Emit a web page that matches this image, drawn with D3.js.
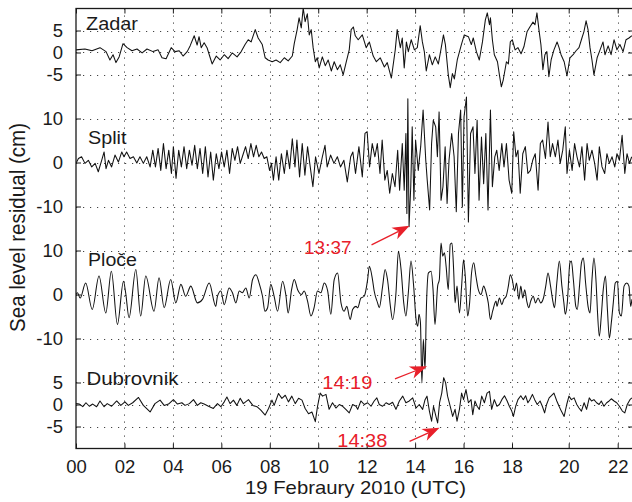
<!DOCTYPE html>
<html><head><meta charset="utf-8">
<script src="https://cdn.jsdelivr.net/npm/d3@7"></script>
<style>
html,body{margin:0;padding:0;background:#fff;}
svg{display:block;font-family:"Liberation Sans",Arial,sans-serif;}
</style></head><body>
<svg id="chart" width="632" height="502"></svg>
<script>
// ---------- data ----------
const hourTicks = [0,2,4,6,8,10,12,14,16,18,20,22];
const hourLabels = ["00","02","04","06","08","10","12","14","16","18","20","22"];
const stations = ["Zadar","Split","Ploče","Dubrovnik"];
const stationOffsets = [80,55,25,0];
const zadarTicks = [5,0,-5];
const splitTicks = [10,0,-10];
const plocheTicks = [10,0,-10];
const dubrovnikTicks = [5,0,-5];

const zadarTime = [0,0.37,0.66,0.99,1.24,1.40,1.53,1.65,1.78,1.94,2.11,2.31,2.52,2.73,2.93,3.18,3.39,3.55,3.72,3.93,4.09,4.26,4.42,4.59,4.71,4.88,5.00,5.08,5.17,5.29,5.41,5.54,5.62,5.79,5.95,6.12,6.28,6.45,6.65,6.82,6.98,7.11,7.23,7.40,7.52,7.69,7.81,7.93,8.10,8.26,8.43,8.60,8.76,8.93,9.01,9.13,9.21,9.30,9.38,9.46,9.55,9.63,9.71,9.79,9.88,9.96,10.04,10.17,10.29,10.41,10.54,10.66,10.79,10.91,11.03,11.16,11.28,11.36,11.45,11.53,11.65,11.82,11.98,12.11,12.27,12.40,12.56,12.73,12.85,13.02,13.18,13.26,13.39,13.47,13.55,13.64,13.72,13.84,13.97,14.09,14.21,14.30,14.38,14.46,14.59,14.71,14.83,14.96,15.08,15.17,15.25,15.37,15.45,15.54,15.62,15.74,15.91,16.03,16.20,16.32,16.40,16.53,16.65,16.78,16.90,16.98,17.07,17.11,17.19,17.27,17.40,17.48,17.56,17.64,17.77,17.85,17.93,18.01,18.11,18.21,18.32,18.42,18.53,18.63,18.74,18.81,18.88,18.95,19.02,19.09,19.16,19.23,19.30,19.38,19.48,19.59,19.66,19.73,19.84,19.94,20.05,20.18,20.30,20.42,20.54,20.62,20.71,20.79,20.87,20.95,21.03,21.16,21.28,21.40,21.48,21.61,21.73,21.85,21.97,22.09,22.22,22.34,22.46,22.58];
const zadarLevel = [0.6,0.8,0.4,1.1,0.2,-1.7,-0.5,-2.3,-1.0,2.0,1.1,0.4,0.8,-0.1,0.8,0.2,0.6,-1.2,-1.4,1.1,0.2,0.4,-0.8,0.2,1.5,3.8,1.7,3.6,1.1,2.2,1.1,-1.2,-2.6,-0.8,-1.7,-0.5,-1.4,-0.1,-1.0,0.2,1.8,2.9,2.4,5.2,3.3,1.8,-1.2,-1.7,-2.1,-1.7,-2.3,-1.2,-1.9,-0.8,2.0,5.2,7.9,5.6,10.1,7.0,8.8,4.0,5.2,1.1,-2.1,-1.2,-3.5,-1.0,-3.0,-1.7,-4.2,-2.1,-3.9,-2.8,-5.1,-2.1,0.6,5.2,5.8,3.8,2.9,4.0,1.1,2.4,-0.8,-2.1,-1.2,-3.3,-2.3,-5.8,0.6,5.2,1.1,3.3,-3.5,2.4,0.2,2.9,0.6,1.1,6.1,2.4,0.2,-4.2,-0.5,-2.8,-1.0,-2.6,1.1,4.0,1.8,-5.1,-8.0,-4.8,-6.0,-1.7,1.8,4.0,3.6,1.8,3.3,0.2,-1.7,2.4,7.4,9.0,6.3,7.9,2.9,-0.5,-2.1,-5.1,-7.8,-6.2,-2.1,-2.6,2.4,2.9,0.6,1.1,-0.3,1.3,4.7,5.8,6.9,6.3,9.0,5.2,1.8,-3.9,-0.5,0.2,-5.5,-1.7,0.6,2.4,1.1,-0.5,-2.1,-5.3,-1.2,-0.5,0.4,1.1,3.3,4.7,7.2,5.2,1.1,-1.7,-5.1,-1.2,0.6,2.4,-0.5,1.5,-0.5,2.9,0.6,1.8,0.2,2.9,3.3,3.8];

const splitTime = [0,0.10,0.23,0.37,0.51,0.65,0.79,0.92,1.06,1.16,1.24,1.34,1.47,1.61,1.75,1.89,1.98,2.09,2.23,2.37,2.51,2.64,2.78,2.92,3.06,3.17,3.28,3.39,3.50,3.61,3.72,3.83,3.94,4.02,4.13,4.24,4.35,4.46,4.57,4.68,4.79,4.90,5.01,5.12,5.23,5.34,5.45,5.56,5.67,5.79,5.90,6.01,6.12,6.23,6.34,6.45,6.56,6.67,6.78,6.89,7.00,7.11,7.22,7.33,7.44,7.55,7.66,7.77,7.88,7.99,8.07,8.15,8.26,8.37,8.48,8.60,8.71,8.82,8.93,9.04,9.12,9.23,9.34,9.45,9.56,9.67,9.78,9.89,
  10.03,10.17,10.28,10.37,10.51,10.65,10.79,10.92,11.06,11.20,11.34,11.43,11.54,11.68,11.82,11.93,12.02,12.12,12.23,12.34,12.44,12.55,12.64,12.75,12.85,12.95,13.06,13.17,13.28,13.36,13.47,13.55,13.62,13.66,13.70,13.75,13.82,13.88,13.95,14.02,14.13,14.23,14.33,14.44,14.50,14.60,14.68,14.75,14.85,14.92,14.99,15.07,15.15,15.24,15.32,15.40,15.51,15.61,15.70,15.79,15.88,15.95,16.02,16.12,16.20,16.29,16.39,16.47,16.56,16.64,16.74,16.83,16.92,17.01,17.11,17.19,17.29,17.37,17.47,17.58,17.67,17.77,17.88,17.99,18.06,18.14,18.21,18.29,18.38,18.47,18.56,18.65,18.73,18.82,18.92,19.00,19.08,19.18,19.27,19.35,19.43,19.53,19.62,19.70,19.79,19.88,19.94,20.03,20.14,20.24,20.34,20.44,20.54,20.65,20.75,20.84,20.95,21.06,21.16,21.25,21.36,21.47,21.56,21.66,21.77,21.88,21.97,22.07,22.18,22.29,22.38,22.48,22.57];
const splitLevel = [-0.2,0.9,1.3,-0.2,0.5,-1.0,-0.2,-2.1,0.5,2.4,-1.4,0.5,-1.0,1.7,0.1,2.4,1.3,2.4,0.9,1.3,-0.1,1.3,-0.2,1.3,-1.0,2.8,-1.0,3.2,-1.8,4.3,-1.4,2.8,-2.5,3.6,-3.6,2.8,-1.0,3.6,-1.4,2.8,-0.6,3.9,-1.4,3.2,-2.5,3.6,-3.3,2.4,-4.0,2.0,-1.4,2.4,-1.0,2.8,-2.5,3.2,0.5,3.6,-0.2,1.7,3.6,0.9,4.3,1.3,3.9,1.3,2.4,0.9,1.3,-1.8,-0.2,-4.0,1.3,-4.0,2.0,-2.5,2.8,-1.4,5.4,-1.0,5.1,-3.3,4.3,-2.9,3.6,-1.0,-5.5,1.3,
  -2.5,1.3,3.9,-1.0,1.7,-0.2,1.3,-1.0,0.5,-4.4,1.3,2.4,-2.5,3.6,-3.3,6.6,7.0,-1.0,4.3,1.3,4.3,-2.5,5.1,-4.0,-1.8,-7.0,-2.5,-5.5,2.8,-6.3,4.3,-6.3,6.6,-11.6,14.5,-14.6,-5.5,8.1,-8.6,5.1,-1.8,3.6,11.9,0.5,-4.0,-10.8,4.3,9.6,8.1,1.3,11.5,-8.6,-5.5,3.6,-9.3,0.5,6.6,1.3,-11.2,6.6,11.9,-10.1,10.4,14.9,-13.5,6.6,8.1,-2.5,9.6,-8.6,5.8,-4.8,6.6,-10.8,11.9,-5.5,1.3,2.8,-1.8,4.3,-1.0,4.3,-4.0,-7.0,7.0,1.3,2.8,-7.0,2.0,3.6,-2.5,-1.8,0.5,2.0,-6.3,4.3,5.1,0.9,9.2,1.3,4.3,1.3,5.1,-0.2,2.8,8.1,-2.5,2.8,-1.8,4.3,1.3,-1.0,3.6,-4.0,4.3,0.5,2.8,-0.2,-4.0,3.6,-1.0,-2.5,2.0,-0.2,1.3,-1.0,2.0,0.5,6.2,-2.5,2.0,-0.2,1.3];

const plocheTime = [0,0.06,0.17,0.40,0.67,0.95,1.23,1.46,1.71,1.96,2.05,2.19,2.47,2.67,2.88,3.22,3.43,3.64,3.91,4.12,4.33,4.53,4.74,5.01,5.22,5.50,5.77,
  5.84,5.98,6.12,6.32,6.46,6.60,6.74,6.87,7.01,7.15,7.29,7.43,7.56,7.70,7.80,7.91,8.04,8.18,8.32,8.53,8.66,8.76,8.90,9.01,9.15,9.31,9.42,9.56,9.70,9.83,9.97,10.11,10.25,10.39,10.52,10.66,10.80,10.94,11.07,11.18,11.32,11.42,11.56,
  11.63,11.76,11.90,12.04,12.11,12.24,12.31,12.45,12.52,12.66,12.76,12.86,12.98,13.07,13.21,13.31,13.42,13.53,13.62,13.72,13.83,13.94,14.04,14.11,14.16,14.22,14.28,14.34,14.41,14.46,14.55,14.66,14.74,14.82,14.93,15.00,15.07,15.14,15.21,15.28,15.37,15.45,15.52,15.59,15.65,15.73,15.83,15.92,16.00,16.07,16.17,16.25,16.33,16.42,16.51,16.61,16.72,16.83,16.93,17.02,17.11,17.20,17.34,
  17.38,17.48,17.58,17.66,17.76,17.85,17.93,18.01,18.09,18.16,18.24,18.31,18.38,18.45,18.52,18.59,18.66,18.75,18.83,18.92,19.01,19.11,19.19,19.27,19.36,19.43,19.50,19.58,19.67,19.76,19.83,19.88,19.95,20.05,20.11,20.19,20.29,20.35,20.44,20.52,20.60,20.69,20.79,20.87,20.95,21.03,21.12,21.17,21.25,21.33,21.41,21.50,21.58,21.66,21.74,21.82,21.90,21.99,22.07,22.15,22.26,22.37,22.46,22.53,22.58];
const plocheLevel = [0,0.4,-0.8,2.6,-3.4,4.2,-4.2,5.3,-6.8,3.0,0.4,-5.3,5.7,-4.9,4.2,-3.8,3.8,-3.0,3.4,-1.9,2.3,-0.4,1.9,-1.9,-1.1,2.6,-2.7,
  -0.4,0.8,-2.3,1.5,0.4,-1.9,0.8,0.4,1.5,-0.8,3.4,4.5,2.6,-0.4,-3.8,-3.0,2.3,-0.4,-3.8,3.0,0,-4.2,1.1,3.4,1.1,0,0.8,-1.5,-4.9,-3.0,0.8,0.4,2.6,0.8,-4.5,3.4,4.9,-1.9,-3.8,-2.7,-5.7,-3.4,-2.7,
  -3.0,-0.8,-0.4,3.4,6.4,3.4,0.8,-1.9,-3.0,1.9,5.7,3.4,-2.7,-5.7,0.4,9.8,5.7,-1.9,-4.9,0.4,7.6,1.9,-5.7,-7.2,-4.5,-6.4,-20.1,-10.2,-17.0,-4.2,4.9,5.3,1.1,-6.8,1.9,3.4,11.7,8.7,9.5,6.4,1.1,11.4,11.7,5.7,-1.9,1.9,-4.2,1.9,7.9,4.2,-4.9,-1.9,4.9,7.2,4.2,1.1,0,1.9,0.4,-1.9,-5.7,-3.8,-1.5,
  -2.7,-0.8,-2.3,-1.1,-0.4,1.9,4.5,3.4,0.8,2.6,-1.1,1.9,-0.8,1.1,-1.5,-3.0,-1.5,-0.4,-1.9,-0.8,-1.9,-0.8,1.9,4.9,1.9,-1.1,-3.0,2.6,7.6,1.9,-1.9,-4.5,-1.9,7.2,7.6,3.4,-2.7,-3.4,1.9,7.2,8.3,2.6,-2.7,-4.2,3.4,8.3,2.6,-3.4,-9.5,-4.9,1.1,4.2,-3.4,-9.9,-6.4,-1.9,2.6,3.0,-4.2,-4.9,1.9,2.6,1.9,-2.7,-1.1];

const dubrovnikTime = [0,0.14,0.28,0.41,0.55,0.69,0.85,0.99,1.16,1.29,1.47,1.68,1.85,2.02,2.16,2.34,2.58,2.78,3.06,3.26,3.47,3.64,3.82,4.02,4.19,4.37,4.50,4.68,4.85,5.01,5.15,5.29,5.47,5.67,5.84,5.98,6.12,6.23,6.36,6.50,6.64,6.78,6.91,7.12,7.30,7.47,7.63,7.81,7.95,8.09,8.18,8.36,8.50,8.64,8.77,8.91,9.05,9.19,9.33,9.46,9.60,9.74,9.88,9.97,
  10.08,10.18,10.32,10.45,10.59,10.73,10.87,11.01,11.14,11.28,11.42,11.56,
  11.63,11.76,11.90,12.04,12.18,12.31,12.42,12.52,12.66,12.80,12.93,13.07,13.21,13.35,13.49,13.62,13.76,13.90,14.04,14.17,14.31,14.41,14.49,14.59,14.68,14.76,14.86,14.93,15.01,15.10,15.18,15.26,15.34,15.45,15.55,15.65,15.73,15.83,15.92,16.00,16.10,16.20,16.31,16.38,16.47,16.56,16.65,16.75,16.86,16.97,17.07,17.16,17.27,
  17.38,17.48,17.58,17.69,17.80,17.89,17.99,18.05,18.13,18.21,18.31,18.40,18.48,18.56,18.63,18.72,18.80,18.89,18.99,19.07,19.15,19.22,19.31,19.39,19.48,19.58,19.66,19.74,19.84,19.93,20.01,20.11,20.22,20.33,20.42,20.52,20.63,20.73,20.84,20.93,21.03,21.14,21.24,21.33,21.44,21.55,21.65,21.74,21.85,21.96,22.07,22.19,22.29,22.39,22.50,22.58];
const dubrovnikLevel = [0.2,0.1,-0.5,0.4,-0.4,0.1,-0.5,0.8,-0.5,0.2,-0.4,0.8,-0.2,0.6,-0.2,0.4,1.6,-0.2,-1.7,0.2,1.0,-0.2,0.1,1.1,0.1,0.4,-0.2,0.2,1.1,-0.2,0.4,0.1,-0.4,-0.9,0.2,-0.5,0.6,1.7,0.2,1.0,-0.2,1.4,0.2,1.1,-0.2,-0.5,-1.3,-2.4,-0.9,1.0,-0.2,2.5,1.4,2.1,0.6,1.9,0.2,1.4,1.0,-0.9,-2.1,-1.7,-3.9,-0.5,
  2.6,1.9,2.3,-1.1,0.4,-0.8,0,-0.4,-1.1,-1.9,0,-0.4,
  -1.1,0.8,0,0.4,-0.4,0.8,1.5,0,-0.4,0.4,0,0.5,-1.1,0.8,1.9,0.4,0.8,1.5,-0.8,0,-1.1,1.1,1.9,-1.5,-3.8,-0.4,-2.7,-4.2,0.4,2.6,6.1,4.9,1.9,-0.4,-2.7,-1.1,-3.8,-1.1,2.6,1.1,3.4,0.4,1.1,-2.3,0.8,-0.4,-1.1,1.9,0.4,2.6,3.0,-1.1,1.1,
  -0.4,0,1.1,2.0,0.8,-0.4,-1.5,-2.7,-0.4,1.1,2.0,1.1,2.0,0.4,1.1,2.3,1.1,0,0.8,-0.4,-1.9,0,1.5,2.0,2.6,0.8,-0.4,-1.5,-2.7,0,1.9,1.1,1.5,0,-0.8,-1.5,0.4,-1.1,1.5,0.8,1.1,0.4,0,0.8,-0.4,0.4,0.8,1.3,0.8,0.4,-0.4,-1.5,-1.9,0,1.1,1.5];

const eventLabels = ["13:37","14:19","14:38"];
const eventStations = ["Split","Ploče","Dubrovnik"];
const eventTimes = [13.77,14.49,15.01];
const eventLevels = [-14.4,-16.3,-5.3];

// ---------- layout / style ----------
const L = 76, R = 633, T = 8.5, B = 448.5;
const ink = "#1a1a1a", red = "#e8202a";
const labelLayout = [
  {x:86, y:29.5, w:52},
  {x:88, y:144, w:38.5},
  {x:88, y:266, w:49},
  {x:86.5, y:385, w:92}
];
const arrowLayout = [
  {tail:[-38,19], text:[-58,28.5], w:47.5},
  {tail:[-32,12.7], text:[-54.7,23], w:50},
  {tail:[-30,13.6], text:[-52.3,19], w:50}
];
const seriesCurves = [d3.curveLinear, d3.curveLinear, d3.curveMonotoneX, d3.curveLinear];

const svg = d3.select("#chart");
const x = d3.scaleLinear().domain([0,18,20,22.6]).range([L,512,568.7,632.4]);
const y = d3.scaleLinear().domain([-10,90]).range([B,T]);

const tickLists = [zadarTicks, splitTicks, plocheTicks, dubrovnikTicks];
const yTickVals = [], yTickLab = new Map();
tickLists.forEach((tl,i)=>tl.forEach(v=>{const g=v+stationOffsets[i]; yTickVals.push(g); yTickLab.set(g, String(v));}));

// grid
const grid = svg.append("g").attr("stroke","#444").attr("stroke-width",1).attr("stroke-dasharray","1.2,5.8");
grid.selectAll("line.h").data(yTickVals).join("line").attr("class","h")
  .attr("x1",L).attr("x2",R).attr("y1",d=>Math.round(y(d))+0.5).attr("y2",d=>Math.round(y(d))+0.5);
grid.selectAll("line.v").data(hourTicks.filter(d=>d>0)).join("line").attr("class","v")
  .attr("y1",T).attr("y2",B).attr("x1",d=>Math.round(x(d))+0.5).attr("x2",d=>Math.round(x(d))+0.5);

// clip
svg.append("clipPath").attr("id","plotclip").append("rect")
  .attr("x",L).attr("y",T).attr("width",R-L).attr("height",B-T);

// series
const seriesTimes = [zadarTime, splitTime, plocheTime, dubrovnikTime];
const seriesLevels = [zadarLevel, splitLevel, plocheLevel, dubrovnikLevel];
const lines = svg.append("g").attr("clip-path","url(#plotclip)");
stations.forEach((s,i)=>{
  const pts = d3.zip(seriesTimes[i], seriesLevels[i]);
  const line = d3.line().curve(seriesCurves[i]).x(d=>x(d[0])).y(d=>y(d[1]+stationOffsets[i]));
  lines.append("path").datum(pts).attr("d",line)
    .attr("fill","none").attr("stroke","#111").attr("stroke-width",1.05).attr("stroke-linejoin","round");
});

// axes
function styleAxis(g){
  g.select(".domain").remove();
  g.selectAll(".tick line").attr("stroke",ink).attr("stroke-width",1);
  g.selectAll(".tick text").attr("fill",ink).attr("font-size","18.5px").attr("font-family",'"Liberation Sans",Arial,sans-serif');
}
svg.append("g").attr("transform",`translate(0,${B})`)
  .call(d3.axisBottom(x).tickValues(hourTicks).tickFormat((d,i)=>hourLabels[i]).tickSizeInner(-5).tickSizeOuter(0).tickPadding(11))
  .call(styleAxis);
svg.append("g").attr("transform",`translate(0,${T})`)
  .call(d3.axisTop(x).tickValues(hourTicks).tickFormat("").tickSizeInner(-5).tickSizeOuter(0))
  .call(styleAxis);
svg.append("g").attr("transform",`translate(${L},0)`)
  .call(d3.axisLeft(y).tickValues(yTickVals).tickFormat(d=>yTickLab.get(d)).tickSizeInner(-5).tickSizeOuter(0).tickPadding(13))
  .call(styleAxis);
svg.append("g").attr("transform",`translate(${R},0)`)
  .call(d3.axisRight(y).tickValues(yTickVals).tickFormat("").tickSizeInner(-5).tickSizeOuter(0))
  .call(styleAxis);

// frame
svg.append("rect").attr("x",L).attr("y",T).attr("width",R-L).attr("height",B-T)
  .attr("fill","none").attr("stroke",ink).attr("stroke-width",1.3);

// station labels
stations.forEach((s,i)=>{
  const p = labelLayout[i];
  svg.append("text").attr("x",p.x).attr("y",p.y).text(s)
    .attr("font-size","17.5px").attr("fill",ink)
    .attr("textLength",p.w).attr("lengthAdjust","spacingAndGlyphs");
});

// axis titles
svg.append("text").attr("x",355.5).attr("y",494).attr("text-anchor","middle")
  .attr("font-size","19px").attr("fill",ink)
  .attr("textLength",221).attr("lengthAdjust","spacingAndGlyphs")
  .text("19 Febraury 2010 (UTC)");
svg.append("text").attr("transform","translate(25,227.5) scale(1.15,1) rotate(-90)")
  .attr("text-anchor","middle").attr("font-size","19px").attr("fill",ink)
  .attr("textLength",209).attr("lengthAdjust","spacingAndGlyphs")
  .text("Sea level residual (cm)");

// annotations
const ann = svg.append("g");
eventLabels.forEach((lab,i)=>{
  const si = stations.indexOf(eventStations[i]);
  const tip = [x(eventTimes[i]), y(eventLevels[i]+stationOffsets[si])];
  const lay = arrowLayout[i];
  const tail = [tip[0]+lay.tail[0], tip[1]+lay.tail[1]];
  const dx = tip[0]-tail[0], dy = tip[1]-tail[1], len = Math.hypot(dx,dy);
  const u = [dx/len, dy/len], n = [-u[1], u[0]];
  const HL = 17, HW = 6.5;
  const base = [tip[0]-HL*u[0], tip[1]-HL*u[1]];
  const notch = [tip[0]-0.72*HL*u[0], tip[1]-0.72*HL*u[1]];
  ann.append("line").attr("x1",tail[0]).attr("y1",tail[1]).attr("x2",notch[0]).attr("y2",notch[1])
    .attr("stroke",red).attr("stroke-width",1.3);
  ann.append("polygon").attr("fill",red).attr("points",[
    tip, [base[0]+HW*n[0], base[1]+HW*n[1]], notch, [base[0]-HW*n[0], base[1]-HW*n[1]]
  ].map(p=>p.join(",")).join(" "));
  ann.append("text").attr("x",tip[0]+lay.text[0]).attr("y",tip[1]+lay.text[1])
    .attr("text-anchor","end").attr("font-size","19px").attr("fill",red)
    .attr("textLength",lay.w).attr("lengthAdjust","spacingAndGlyphs").text(lab);
});
</script>
</body></html>
